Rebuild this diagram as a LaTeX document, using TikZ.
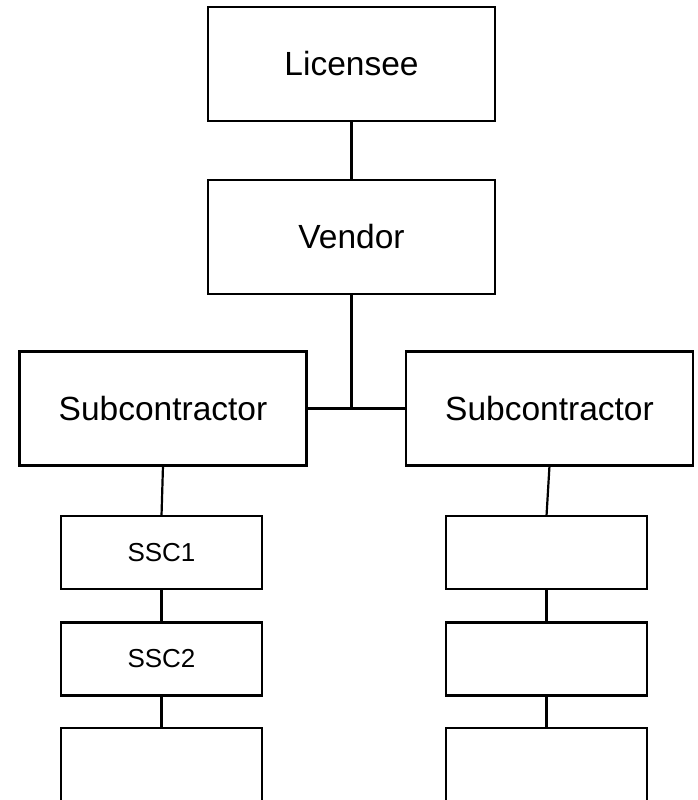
\documentclass[tikz,border=0pt]{standalone}
\usepackage{fontspec}
\setmainfont{Liberation Sans}
\begin{document}
\begin{tikzpicture}[x=1pt,y=-1pt,
  box/.style={draw=black,line width=2.2pt,rectangle,inner sep=0pt,outer sep=0pt,
    minimum width=287pt,minimum height=114pt,font=\fontsize{33.5}{40}\selectfont},
  smallbox/.style={draw=black,line width=2.2pt,rectangle,inner sep=0pt,outer sep=0pt,
    minimum width=201pt,minimum height=73pt,font=\fontsize{26}{31}\selectfont},
  link/.style={draw=black,line width=2.2pt}]
  \useasboundingbox (0,0) rectangle (698,800);
  \clip (0,0) rectangle (698,800);

  % top of the chain
  \node[box] (licensee) at (351.5,64) {Licensee};
  \node[box] (vendor) at (351.5,237) {Vendor};

  % subcontractors
  \node[box] (subL) at (163,408.5) {Subcontractor};
  \node[box] (subR) at (549.5,408.5) {Subcontractor};

  % sub-subcontractors, left branch
  \node[smallbox] (sscA) at (161.5,552.5) {SSC1};
  \node[smallbox] (sscB) at (161.5,659) {SSC2};
  \node[smallbox,minimum height=100pt] (sscC) at (161.5,778) {};

  % sub-subcontractors, right branch
  \node[smallbox] (rA) at (546.5,552.5) {};
  \node[smallbox] (rB) at (546.5,659) {};
  \node[smallbox,minimum height=100pt] (rC) at (546.5,778) {};

  % connectors
  \coordinate (joint) at (vendor.south |- subL.east);
  \draw[link] (licensee.south) -- (vendor.north);
  \draw[link] (vendor.south) -- (joint);
  \draw[link] (subL.east) -- (subR.west);
  \draw[link] (subL.south) -- (sscA.north);
  \draw[link] (sscA.south) -- (sscB.north);
  \draw[link] (sscB.south) -- (sscC.north);
  \draw[link] (subR.south) -- (rA.north);
  \draw[link] (rA.south) -- (rB.north);
  \draw[link] (rB.south) -- (rC.north);
\end{tikzpicture}
\end{document}
